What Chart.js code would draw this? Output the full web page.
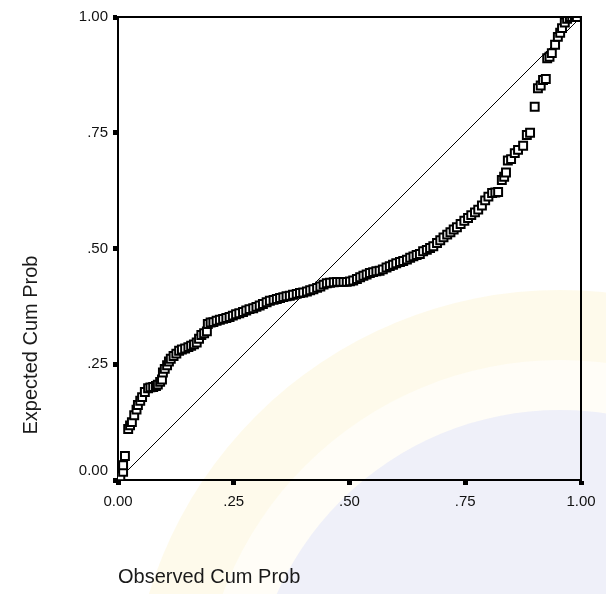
<!DOCTYPE html>
<html>
<head>
<meta charset="utf-8">
<script src="https://cdn.jsdelivr.net/npm/chart.js@4.4.1/dist/chart.umd.min.js"></script>
<style>
  html, body { margin: 0; padding: 0; background: #fff; }
  #wrap { width: 606px; height: 594px; position: relative; }
</style>
</head>
<body>
<div id="wrap"><canvas id="pp"></canvas></div>
<script>
// observed vs expected cumulative probability
const observedCum = [
  0.005, 0.011, 0.011, 0.015, 0.022, 0.026, 0.030, 0.035, 0.040, 0.043,
  0.048, 0.052, 0.058, 0.065, 0.070, 0.076, 0.082, 0.086, 0.091, 0.095,
  0.097, 0.101, 0.106, 0.110, 0.114, 0.120, 0.126, 0.132, 0.138, 0.145,
  0.152, 0.158, 0.164, 0.170, 0.175, 0.180, 0.186, 0.192, 0.194, 0.200,
  0.206, 0.213, 0.220, 0.227, 0.234, 0.241, 0.248, 0.255, 0.262, 0.270,
  0.277, 0.284, 0.292, 0.299, 0.306, 0.313, 0.321, 0.328, 0.336, 0.343,
  0.350, 0.357, 0.364, 0.371, 0.378, 0.386, 0.393, 0.400, 0.408, 0.415,
  0.422, 0.430, 0.437, 0.444, 0.451, 0.458, 0.466, 0.473, 0.480, 0.487,
  0.494, 0.501, 0.508, 0.516, 0.523, 0.530, 0.537, 0.544, 0.551, 0.558,
  0.565, 0.572, 0.580, 0.587, 0.594, 0.601, 0.609, 0.616, 0.624, 0.631,
  0.638, 0.645, 0.652, 0.659, 0.667, 0.674, 0.681, 0.689, 0.696, 0.703,
  0.711, 0.718, 0.725, 0.732, 0.740, 0.748, 0.756, 0.763, 0.771, 0.778,
  0.786, 0.793, 0.800, 0.808, 0.815, 0.821, 0.829, 0.834, 0.838, 0.842,
  0.849, 0.857, 0.864, 0.875, 0.883, 0.890, 0.900, 0.907, 0.913, 0.918,
  0.924, 0.927, 0.932, 0.937, 0.944, 0.950, 0.955, 0.959, 0.965, 0.970,
  0.976, 0.981, 0.987, 0.991
];
const expectedCum = [
  0.008, 0.018, 0.032, 0.052, 0.110, 0.118, 0.125, 0.140, 0.152, 0.162,
  0.171, 0.179, 0.190, 0.198, 0.200, 0.201, 0.203, 0.206, 0.212, 0.217,
  0.232, 0.240, 0.248, 0.256, 0.262, 0.268, 0.273, 0.279, 0.282, 0.284,
  0.287, 0.290, 0.293, 0.297, 0.305, 0.313, 0.317, 0.321, 0.337, 0.340,
  0.341, 0.344, 0.346, 0.348, 0.350, 0.352, 0.355, 0.358, 0.360, 0.363,
  0.366, 0.369, 0.371, 0.374, 0.377, 0.380, 0.384, 0.387, 0.389, 0.391,
  0.393, 0.395, 0.397, 0.398, 0.400, 0.402, 0.404, 0.405, 0.407, 0.410,
  0.412, 0.415, 0.418, 0.422, 0.425, 0.426, 0.427, 0.428, 0.428, 0.428,
  0.428, 0.429, 0.431, 0.434, 0.438, 0.441, 0.444, 0.447, 0.449, 0.451,
  0.452, 0.455, 0.459, 0.462, 0.465, 0.468, 0.471, 0.473, 0.476, 0.480,
  0.483, 0.486, 0.488, 0.494, 0.497, 0.501, 0.505, 0.512, 0.518, 0.524,
  0.530, 0.535, 0.541, 0.546, 0.553, 0.560, 0.566, 0.572, 0.578, 0.584,
  0.593, 0.604, 0.612, 0.620, 0.621, 0.622, 0.648, 0.655, 0.664, 0.690,
  0.693, 0.706, 0.713, 0.722, 0.745, 0.750, 0.806, 0.846, 0.852, 0.864,
  0.866, 0.911, 0.914, 0.922, 0.940, 0.957, 0.966, 0.976, 0.988, 0.996,
  1.000, 1.000, 1.000, 1.000
];
const diagonal = [0, 1];
const tickValues = [0, 0.25, 0.5, 0.75, 1];
const tickLabels = ['0.00', '.25', '.50', '.75', '1.00'];
const xTitle = 'Observed Cum Prob';
const yTitle = 'Expected Cum Prob';

const FONT = "'Liberation Sans', Arial, sans-serif";

const points = observedCum.map((v, i) => ({x: v, y: expectedCum[i]}));
const line = diagonal.map((v) => ({x: v, y: v}));

function tickText(value) {
  const i = tickValues.findIndex((t) => Math.abs(t - value) < 1e-6);
  return i >= 0 ? tickLabels[i] : '';
}

// faint scanned watermark, box around the plot, titles
const decor = {
  id: 'decor',
  beforeDraw(chart) {
    const ctx = chart.ctx;
    ctx.save();
    ctx.fillStyle = 'rgba(252, 238, 190, 0.3)';
    ctx.beginPath();
    ctx.arc(560, 720, 430, 0, Math.PI * 2);
    ctx.fill();
    ctx.fillStyle = 'rgba(255, 255, 255, 0.6)';
    ctx.beginPath();
    ctx.arc(560, 720, 360, 0, Math.PI * 2);
    ctx.fill();
    ctx.fillStyle = 'rgba(220, 224, 250, 0.45)';
    ctx.beginPath();
    ctx.arc(560, 720, 310, 0, Math.PI * 2);
    ctx.fill();
    ctx.restore();
  },
  afterDraw(chart) {
    const {ctx, chartArea: a} = chart;
    ctx.save();
    ctx.strokeStyle = '#000';
    ctx.lineWidth = 2;
    ctx.beginPath();
    ctx.moveTo(a.left, a.top);
    ctx.lineTo(a.right, a.top);
    ctx.lineTo(a.right, a.bottom);
    ctx.stroke();

    // the y-axis zero label sits a little above the axis line
    ctx.fillStyle = '#111';
    ctx.font = '15px ' + FONT;
    ctx.textAlign = 'right';
    ctx.textBaseline = 'middle';
    ctx.fillText(tickLabels[0], a.left - 10, a.bottom - 9);

    ctx.fillStyle = '#1a1a1a';
    ctx.font = '20px ' + FONT;
    ctx.textAlign = 'left';
    ctx.fillText(xTitle, a.left, 577);
    ctx.translate(31, 345);
    ctx.rotate(-Math.PI / 2);
    ctx.textAlign = 'center';
    ctx.fillText(yTitle, 0, 0);
    ctx.restore();
  },
};

function axis(isX) {
  return {
    type: 'linear',
    min: 0,
    max: 1,
    afterBuildTicks(scale) {
      scale.ticks = tickValues.map((v) => ({value: v}));
    },
    afterFit(scale) {
      if (isX) scale.height = 114;
      else scale.width = 118;
    },
    border: {display: true, color: '#000', width: 2},
    grid: {
      display: true,
      drawOnChartArea: false,
      drawTicks: true,
      tickLength: 5,
      tickWidth: 5,
      color: '#000',
    },
    ticks: {
      color: '#111',
      font: {family: FONT, size: 15},
      padding: isX ? 8 : 5,
      maxRotation: 0,
      autoSkip: false,
      callback: (value) => (!isX && value === 0 ? '' : tickText(value)),
    },
    title: {display: false},
  };
}

new Chart(document.getElementById('pp'), {
  type: 'scatter',
  data: {
    datasets: [
      {
        label: 'diagonal',
        type: 'line',
        data: line,
        borderColor: '#000',
        borderWidth: 1,
        pointRadius: 0,
        fill: false,
        order: 2,
      },
      {
        label: 'cases',
        data: points,
        pointStyle: 'rect',
        pointRadius: 5.6,
        borderWidth: 2,
        borderColor: '#000',
        backgroundColor: '#fff',
        order: 1,
      },
    ],
  },
  options: {
    responsive: true,
    maintainAspectRatio: false,
    animation: false,
    layout: {padding: {left: 0, top: 17, right: 25, bottom: 0}},
    plugins: {
      legend: {display: false},
      tooltip: {enabled: false},
    },
    scales: {
      x: axis(true),
      y: axis(false),
    },
  },
  plugins: [decor],
});
</script>
</body>
</html>
